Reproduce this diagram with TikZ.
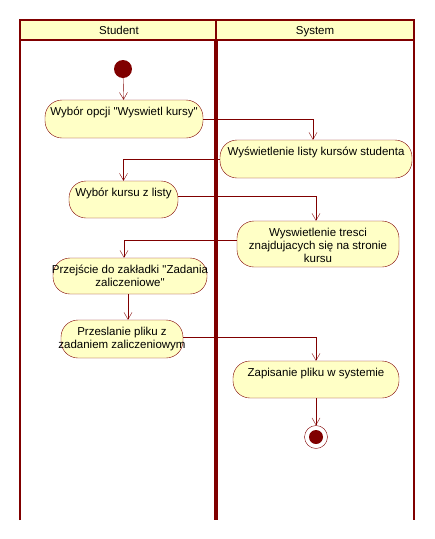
\documentclass[tikz,border=0pt]{standalone}
\usepackage{fontspec}
\setmainfont{Liberation Sans}
\usetikzlibrary{arrows.meta}
\definecolor{umlred}{HTML}{800000}
\definecolor{umlfill}{HTML}{FFFFC6}

\begin{document}
\begin{tikzpicture}
  [
    x=1pt, y=-1pt,
    font=\fontsize{11.5}{13}\selectfont,
    header/.style={text height=8.5pt, text depth=2.5pt, inner sep=0pt},
    action/.style={rectangle, draw=umlred, fill=umlfill, rounded corners=17pt, inner sep=0pt},
    caption/.style={anchor=north, inner sep=0pt, yshift=-7.5pt, align=center},
    initial/.style={circle, fill=umlred, minimum size=18pt, inner sep=0pt},
    final/.style={circle, draw=umlred, fill=white, minimum size=23pt, inner sep=0pt,
      path picture={\fill[umlred] (path picture bounding box.center) circle (7pt);}},
    flow/.style={draw=umlred, -{Straight Barb[length=7pt,width=8pt]}},
    lane/.style={draw=umlred, line width=2pt}
  ]
  \useasboundingbox (0,0) rectangle (435,539);

  \fill[umlfill] (20,20) rectangle (414,40);
  \node[header] (student) at (119,31.5) {Student};
  \node[header] (system) at (315,31.5) {System};
  \draw[lane] (20,520) -- (20,20) -- (414,20) -- (414,520);
  \draw[lane] (20,40) -- (414,40);
  \draw[lane] (216,20) -- (216,40);
  \draw[umlred, line width=4pt] (216,40) -- (216,520);

  \node[initial] (start) at (123,69) {};
  \node[action, minimum width=158pt, minimum height=38pt,
    label={[caption]north:{Wybór opcji \textquotedbl Wyswietl kursy\textquotedbl}}] (wybor) at (124,119) {};
  \node[action, minimum width=192pt, minimum height=38pt,
    label={[caption]north:{Wyświetlenie listy kursów studenta}}] (lista) at (316,159) {};
  \node[action, minimum width=109pt, minimum height=37pt,
    label={[caption]north:{Wybór kursu z listy}}] (kurs) at (123.5,199.5) {};
  \node[action, minimum width=162pt, minimum height=46pt,
    label={[caption]north:{Wyswietlenie tresci\\znajdujacych się na stronie\\kursu}}] (tresc) at (318,244) {};
  \node[action, minimum width=154pt, minimum height=36pt,
    label={[caption]north:{Przejście do zakładki \textquotedbl Zadania\\zaliczeniowe\textquotedbl}}] (zakladka) at (130,276) {};
  \node[action, minimum width=122pt, minimum height=38pt,
    label={[caption]north:{Przeslanie pliku z\\zadaniem zaliczeniowym}}] (przeslanie) at (122,339) {};
  \node[action, minimum width=166pt, minimum height=37pt,
    label={[caption]north:{Zapisanie pliku w systemie}}] (zapis) at (316,379.5) {};
  \node[final] (koniec) at (316,437) {};

  \draw[flow] (start) -- (wybor);
  \draw[flow] (wybor.east) -| ([xshift=-3pt]lista.north);
  \draw[flow] (lista.west) -| (kurs.north);
  \draw[flow] ([yshift=3pt]kurs.east) -| ([xshift=-2pt]tresc.north);
  \draw[flow] ([yshift=4pt]tresc.west) -| ([xshift=-6pt]zakladka.north);
  \draw[flow] ([xshift=-2pt]zakladka.south) -- ([xshift=6pt]przeslanie.north);
  \draw[flow] ([yshift=2pt]przeslanie.east) -| (zapis.north);
  \draw[flow] (zapis) -- (koniec);
\end{tikzpicture}
\end{document}
